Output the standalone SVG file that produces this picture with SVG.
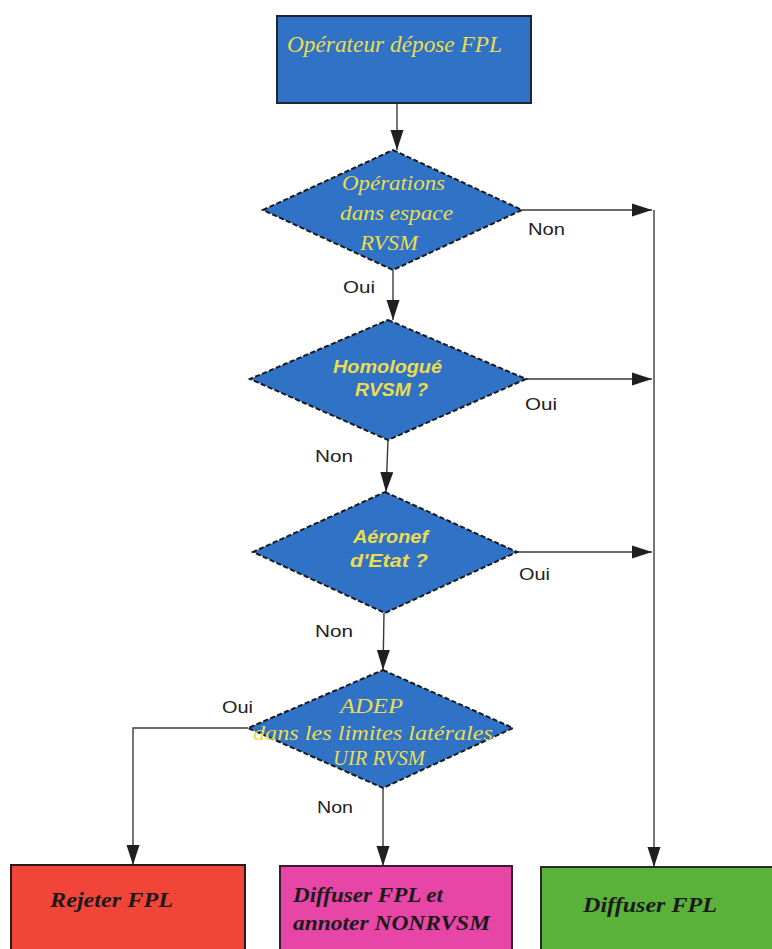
<svg xmlns="http://www.w3.org/2000/svg" width="772" height="949" viewBox="0 0 772 949">
  <style>
    .blue { fill: #2f72c6; }
    .box { stroke: #1d2636; stroke-width: 2; }
    .dia { stroke: #1a1a1a; stroke-width: 2; stroke-dasharray: 5 2.5; }
    .serif-y { font-family: "Liberation Serif", "DejaVu Serif", serif; font-style: italic; fill: #ecdc4e; }
    .sans-y { font-family: "Liberation Sans", Arial, sans-serif; font-style: italic; font-weight: bold; fill: #ecdc4e; font-size: 18px; }
    .lbl { font-family: "Liberation Sans", Arial, sans-serif; fill: #222; font-size: 17px; }
    .dark { font-family: "Liberation Serif", "DejaVu Serif", serif; font-style: italic; font-weight: bold; fill: #1a1a1a; font-size: 21px; }
    .conn { fill: none; stroke: #3a3a3a; stroke-width: 1.4; }
  </style>
  <defs>
    <marker id="arrow" markerUnits="userSpaceOnUse" markerWidth="22" markerHeight="16" refX="20" refY="8" orient="auto">
      <path d="M0,1.5 L20,8 L0,14.5 Z" fill="#1f1f1f"/>
    </marker>
  </defs>

  <rect width="772" height="949" fill="#ffffff"/>

  <!-- connectors -->
  <g id="connectors">
    <path class="conn" d="M397,103 L397,150" marker-end="url(#arrow)"/>
    <path class="conn" d="M522,210 L652,210" marker-end="url(#arrow)"/>
    <path class="conn" d="M654,210 L654,867" marker-end="url(#arrow)"/>
    <path class="conn" d="M393,270 L393,320" marker-end="url(#arrow)"/>
    <path class="conn" d="M526,379 L652,379" marker-end="url(#arrow)"/>
    <path class="conn" d="M388,440 L386,492" marker-end="url(#arrow)"/>
    <path class="conn" d="M517,552 L652,552" marker-end="url(#arrow)"/>
    <path class="conn" d="M384,613 L383,670" marker-end="url(#arrow)"/>
    <path class="conn" d="M248,728 L133,728 L133,865" marker-end="url(#arrow)"/>
    <path class="conn" d="M383,788 L383,866" marker-end="url(#arrow)"/>

    <text class="lbl" x="528" y="235" textLength="37" lengthAdjust="spacingAndGlyphs">Non</text>
    <text class="lbl" x="343" y="293" textLength="32" lengthAdjust="spacingAndGlyphs">Oui</text>
    <text class="lbl" x="525" y="410" textLength="32" lengthAdjust="spacingAndGlyphs">Oui</text>
    <text class="lbl" x="315" y="462" textLength="38" lengthAdjust="spacingAndGlyphs">Non</text>
    <text class="lbl" x="519" y="580" textLength="31" lengthAdjust="spacingAndGlyphs">Oui</text>
    <text class="lbl" x="315" y="637" textLength="38" lengthAdjust="spacingAndGlyphs">Non</text>
    <text class="lbl" x="222" y="713" textLength="31" lengthAdjust="spacingAndGlyphs">Oui</text>
    <text class="lbl" x="317" y="813" textLength="36" lengthAdjust="spacingAndGlyphs">Non</text>
  </g>

  <!-- start -->
  <g id="start">
    <rect class="blue box" x="277" y="16" width="254" height="87"/>
    <text class="serif-y" x="287" y="52" font-size="23" textLength="215" lengthAdjust="spacingAndGlyphs">Opérateur dépose FPL</text>
  </g>

  <!-- decision 1 -->
  <g id="decision-rvsm-space">
    <polygon class="blue dia" points="393,150 522,210 393,270 263,210"/>
    <text class="serif-y" x="342" y="190" font-size="21" textLength="103" lengthAdjust="spacingAndGlyphs">Opérations</text>
    <text class="serif-y" x="340" y="220" font-size="21" textLength="113" lengthAdjust="spacingAndGlyphs">dans espace</text>
    <text class="serif-y" x="360" y="250" font-size="21" textLength="58" lengthAdjust="spacingAndGlyphs">RVSM</text>
  </g>

  <!-- decision 2 -->
  <g id="decision-approved">
    <polygon class="blue dia" points="388,320 526,379 388,440 250,379"/>
    <text class="sans-y" x="333" y="373" textLength="109" lengthAdjust="spacingAndGlyphs">Homologué</text>
    <text class="sans-y" x="355" y="396" textLength="73" lengthAdjust="spacingAndGlyphs">RVSM ?</text>
  </g>

  <!-- decision 3 -->
  <g id="decision-state">
    <polygon class="blue dia" points="385,492 517,552 385,613 253,552"/>
    <text class="sans-y" x="353" y="543" textLength="75" lengthAdjust="spacingAndGlyphs">Aéronef</text>
    <text class="sans-y" x="350" y="567" textLength="78" lengthAdjust="spacingAndGlyphs">d'Etat ?</text>
  </g>

  <!-- decision 4 -->
  <g id="decision-adep">
    <polygon class="blue dia" points="383,670 513,728 383,788 248,728"/>
    <text class="serif-y" x="340" y="713" font-size="21" textLength="63" lengthAdjust="spacingAndGlyphs">ADEP</text>
    <text class="serif-y" x="253" y="740" font-size="21" textLength="240" lengthAdjust="spacingAndGlyphs">dans les limites latérales</text>
    <text class="serif-y" x="333" y="765" font-size="21" textLength="92" lengthAdjust="spacingAndGlyphs">UIR RVSM</text>
  </g>

  <!-- outcomes -->
  <g id="reject">
    <rect x="11" y="865" width="234" height="100" fill="#f1453a" stroke="#2a1a1a" stroke-width="2"/>
    <text class="dark" x="50" y="907" textLength="123" lengthAdjust="spacingAndGlyphs">Rejeter  FPL</text>
  </g>

  <g id="annotate">
    <rect x="280" y="866" width="232" height="100" fill="#e846a6" stroke="#3a1a30" stroke-width="2"/>
    <text class="dark" x="293" y="902" textLength="150" lengthAdjust="spacingAndGlyphs">Diffuser FPL et</text>
    <text class="dark" x="293" y="930" textLength="197" lengthAdjust="spacingAndGlyphs">annoter NONRVSM</text>
  </g>

  <g id="broadcast">
    <rect x="541" y="867" width="240" height="100" fill="#5bb23a" stroke="#2a2a2a" stroke-width="2"/>
    <text class="dark" x="583" y="912" textLength="134" lengthAdjust="spacingAndGlyphs">Diffuser  FPL</text>
  </g>
</svg>
